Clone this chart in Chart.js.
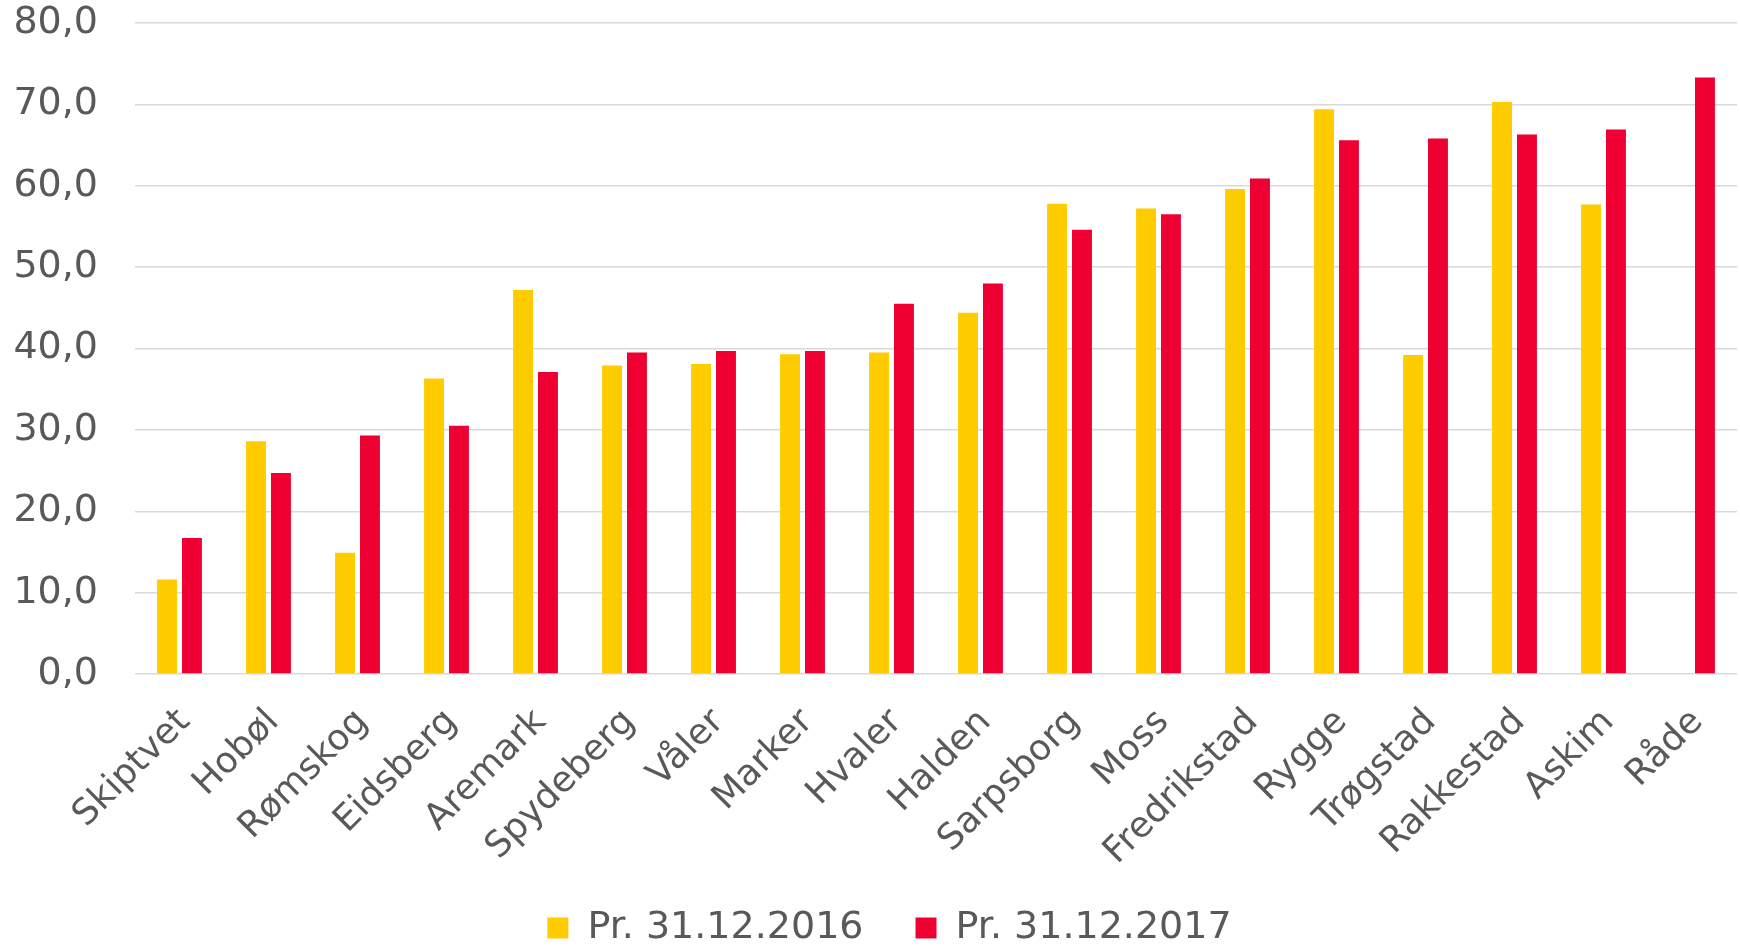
<!DOCTYPE html>
<html>
<head>
<meta charset="utf-8">
<script src="https://cdn.jsdelivr.net/npm/chart.js@4"></script>
<style>
   html, body { margin: 0; padding: 0; background: #ffffff; }
   #wrap { width: 1740px; height: 949px; }
</style>
</head>
<body>
<div id="wrap"><canvas id="myChart" width="1740" height="949"></canvas></div>
<script>
// kommuner og verdier lest av grafen
const kommuner = ['Skiptvet', 'Hobøl', 'Rømskog', 'Eidsberg', 'Aremark', 'Spydeberg', 'Våler', 'Marker', 'Hvaler',
   'Halden', 'Sarpsborg', 'Moss', 'Fredrikstad', 'Rygge', 'Trøgstad', 'Rakkestad', 'Askim', 'Råde'];
const verdier2016 = [11.6, 28.6, 14.9, 36.3, 47.2, 37.9, 38.1, 39.3, 39.5, 44.4, 57.8, 57.2, 59.6, 69.4, 39.2, 70.3, 57.7, null];
const verdier2017 = [16.7, 24.7, 29.3, 30.5, 37.1, 39.5, 39.7, 39.7, 45.5, 48.0, 54.6, 56.5, 60.9, 65.6, 65.8, 66.3, 66.9, 73.3];
const serieNavn = ['Pr. 31.12.2016', 'Pr. 31.12.2017'];
const yTicks = [0, 10, 20, 30, 40, 50, 60, 70, 80];

const tekstFarge = '#595959';
const fontNavn = "'DejaVu Sans', sans-serif";
const legendFont = 38, legendPad = 52;

// flytter legenden litt ned/til høyre så den havner der den står i originalen
const flyttLegend = {
   id: 'flyttLegend',
   afterLayout(chart) {
      const l = chart.legend;
      l.top += 8; l.bottom += 8;
      l.left += 21; l.right += 21;
   }
};

const ctx = document.getElementById('myChart').getContext('2d');
new Chart(ctx, {
   type: 'bar',
   data: {
      labels: kommuner,
      datasets: [{
         label: serieNavn[0],
         data: verdier2016,
         backgroundColor: '#FFCC00',
         barPercentage: 0.8,
         categoryPercentage: 0.56
      }, {
         label: serieNavn[1],
         data: verdier2017,
         backgroundColor: '#EE0033',
         barPercentage: 0.8,
         categoryPercentage: 0.56
      }]
   },
   options: {
      responsive: false,
      animation: false,
      maintainAspectRatio: false,
      layout: {padding: {left: 0, right: 3, top: 0, bottom: 0}},
      scales: {
         x: {
            grid: {display: false},
            border: {display: false},
            ticks: {
               color: tekstFarge,
               font: {family: fontNavn, size: 36},
               minRotation: 45, maxRotation: 45,
               padding: 19, labelOffset: 5, autoSkip: false
            },
            afterFit: axis => {
               axis.paddingLeft = 0; axis.paddingRight = 0;
               axis.height = 949 - 674 - (legendFont + legendPad + 10);
               axis._computeLabelArea = () => undefined; // ikke klipp de lange etikettene
            }
         },
         y: {
            min: 0, max: 80,
            afterBuildTicks: axis => { axis.ticks = yTicks.map(v => ({value: v})); },
            grid: {color: '#d9d9d9', lineWidth: 1.5, drawTicks: false},
            border: {display: false},
            ticks: {
               color: tekstFarge,
               font: {family: fontNavn, size: 38},
               padding: 37,
               callback: v => v.toFixed(1).replace('.', ',')
            },
            afterFit: axis => {
               axis.width = 135;
               axis.paddingTop = 23; axis.paddingBottom = 0;
            }
         }
      },
      plugins: {
         legend: {
            position: 'bottom',
            labels: {
               color: tekstFarge,
               font: {family: fontNavn, size: legendFont},
               boxWidth: 21, boxHeight: 21,
               padding: legendPad
            }
         },
         tooltip: {enabled: false}
      }
   },
   plugins: [flyttLegend]
});
</script>
</body>
</html>
